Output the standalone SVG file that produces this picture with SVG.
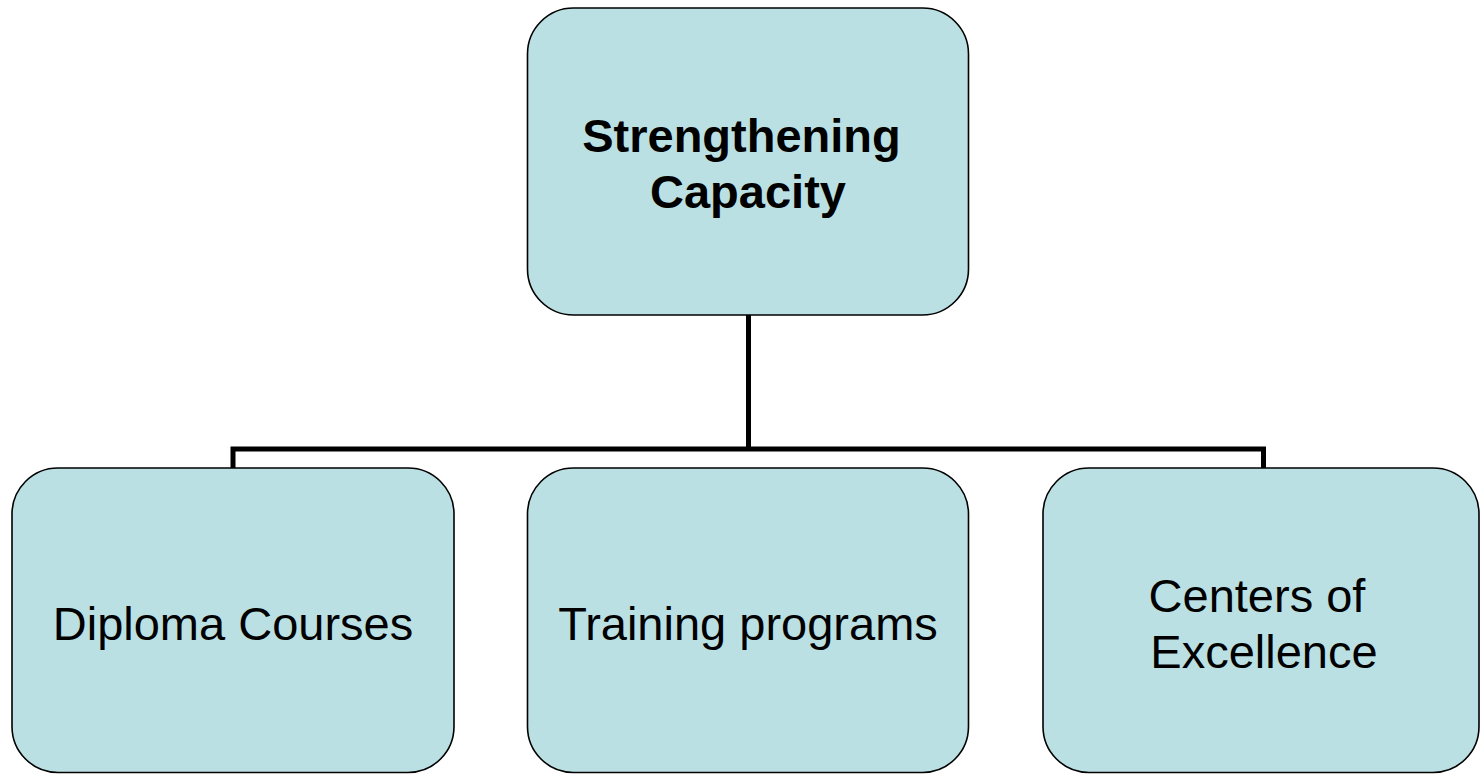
<svg xmlns="http://www.w3.org/2000/svg" width="1481" height="774" viewBox="0 0 1481 774">
<style>
.box{fill:#BBE0E3;stroke:#000;stroke-width:1.6}
.conn{fill:none;stroke:#000;stroke-width:5}
.t{font-family:"Liberation Sans",Arial,sans-serif;font-size:47px;fill:#000;text-anchor:middle}
.b{font-weight:bold}
</style>
<rect width="1481" height="774" fill="#fff"/>
<g id="connectors">
<path class="conn" d="M748.5 315 V449 M233 468 V449 H1263.5 V468"/>
</g>
<g id="root">
<rect class="box" x="527.5" y="8" width="441" height="307" rx="46" ry="46"/>
<text class="t b" x="741.5" y="152">Strengthening</text>
<text class="t b" x="748" y="208">Capacity</text>
</g>
<g id="diploma">
<rect class="box" x="12" y="468" width="442" height="304.5" rx="46" ry="46"/>
<text class="t" x="233" y="640">Diploma Courses</text>
</g>
<g id="training">
<rect class="box" x="527.5" y="468" width="441" height="304.5" rx="46" ry="46"/>
<text class="t" x="748" y="640">Training programs</text>
</g>
<g id="centers">
<rect class="box" x="1043" y="468" width="436" height="304.5" rx="46" ry="46"/>
<text class="t" x="1257" y="612">Centers of</text>
<text class="t" x="1264" y="668">Excellence</text>
</g>
</svg>
